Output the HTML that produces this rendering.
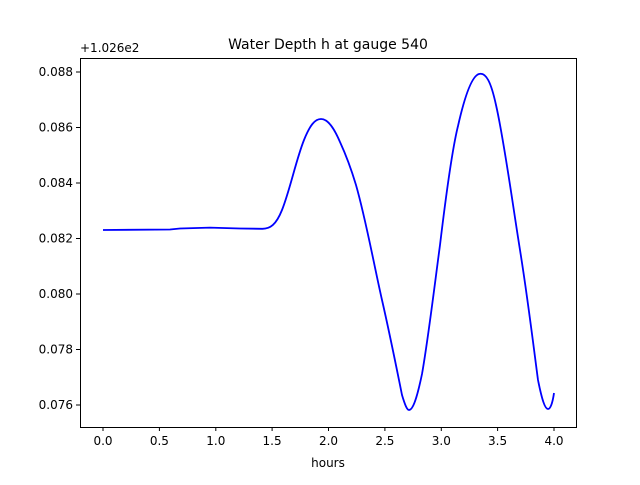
<!DOCTYPE html>
<html><head><meta charset="utf-8"><style>body{margin:0;background:#fff}</style></head><body>
<svg width="640" height="480" xmlns="http://www.w3.org/2000/svg" font-family="DejaVu Sans, Liberation Sans, sans-serif">
<rect width="640" height="480" fill="#fff"/>
<path fill="none" stroke="#0000ff" stroke-width="1.8" d="M103,230 L170,229.5 L180,228.5 L210,227.6 L240,228.5 L262,228.8 C270,229 276,225 282,210 C290,190 296,160 304,140 C310,125 315,119 321,119 C328,119 334,128 340,142 C346,155 350,165 356,185 C366,220 374,265 382,300 C390,335 398,375 402,395 C405,405 407,410 409,410 C413,410 417,398 422,374 C428,340 434,290 440,245 C446,195 452,150 458,126 C465,95 472,76 479,74 C486,72 491,82 496,105 C504,140 512,200 520,250 C528,300 534,350 538,380 C542,400 545,409 548,409 C551,409 553,400 554,393"/>
<rect x="80.5" y="58.5" width="496" height="369" fill="none" stroke="#000" stroke-width="1"/>
<g stroke="#000" stroke-width="1">
<line x1="103" y1="427" x2="103" y2="431"/><line x1="159.4" y1="427" x2="159.4" y2="431"/><line x1="215.8" y1="427" x2="215.8" y2="431"/><line x1="272.1" y1="427" x2="272.1" y2="431"/><line x1="328.5" y1="427" x2="328.5" y2="431"/><line x1="384.9" y1="427" x2="384.9" y2="431"/><line x1="441.3" y1="427" x2="441.3" y2="431"/><line x1="497.6" y1="427" x2="497.6" y2="431"/><line x1="554" y1="427" x2="554" y2="431"/>
<line x1="76" y1="72" x2="80" y2="72"/><line x1="76" y1="127.5" x2="80" y2="127.5"/><line x1="76" y1="183" x2="80" y2="183"/><line x1="76" y1="238.5" x2="80" y2="238.5"/><line x1="76" y1="294" x2="80" y2="294"/><line x1="76" y1="349.5" x2="80" y2="349.5"/><line x1="76" y1="405" x2="80" y2="405"/>
</g>
<g font-size="12" fill="#000" text-anchor="middle">
<text x="103" y="445">0.0</text><text x="159.4" y="445">0.5</text><text x="215.8" y="445">1.0</text><text x="272.1" y="445">1.5</text><text x="328.5" y="445">2.0</text><text x="384.9" y="445">2.5</text><text x="441.3" y="445">3.0</text><text x="497.6" y="445">3.5</text><text x="554" y="445">4.0</text>
<text x="328" y="467">hours</text>
</g>
<g font-size="12" fill="#000" text-anchor="end">
<text x="73" y="76">0.088</text><text x="73" y="131.5">0.086</text><text x="73" y="187">0.084</text><text x="73" y="242.5">0.082</text><text x="73" y="298">0.080</text><text x="73" y="353.5">0.078</text><text x="73" y="409">0.076</text>
</g>
<text x="80" y="52" font-size="12">+1.026e2</text>
<text x="328" y="49" font-size="14" text-anchor="middle">Water Depth h at gauge 540</text>
</svg>
</body></html>
